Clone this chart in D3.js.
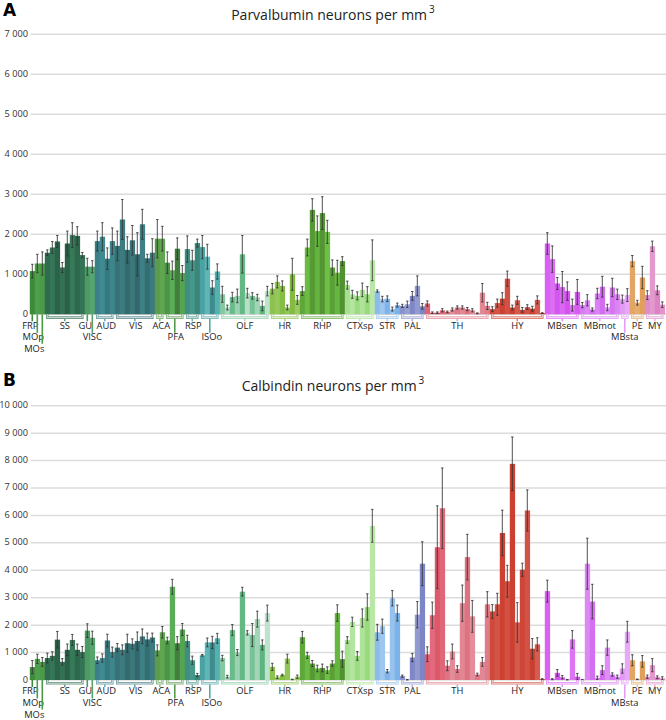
<!DOCTYPE html>
<html><head><meta charset="utf-8">
<script src="https://cdn.jsdelivr.net/npm/d3@7"></script>
<style>body{margin:0;background:#fff} svg{display:block}</style>
</head><body><svg id="chart" width="666" height="720"></svg>
<script>
const groups = ["FRP","MOp","MOs","SS","GU","VISC","AUD","VIS","ACA","PFA","RSP","ISOo","OLF","HR","RHP","CTXsp","STR","PAL","TH","HY","MBsen","MBmot","MBsta","PE","MY"];
const groupSizes = [1,1,1,8,1,1,4,8,2,4,3,4,10,6,9,6,5,5,13,11,7,8,2,3,4];
const labelRow = [0,1,2,0,0,1,0,0,0,1,0,1,0,0,0,0,0,0,0,0,0,0,1,0,0];
const groupColors = ["#3d8a3a","#4f9e4b","#4a9a48","#2f6b4f","#4e9a64","#56a46e","#3b8088","#377276","#5a9c4c","#4c9448","#3f8e80","#4aa2a2","#86c8a0","#8cc24e","#5ea83a","#a6e08e","#8cbcec","#8a92cc","#e07e8c","#d04a3c","#d860f2","#d87af2","#e29af6","#e3a564","#e08cc8"];

const pvTicks = [0,1000,2000,3000,4000,5000,6000,7000];
const cbTicks = [0,1000,2000,3000,4000,5000,6000,7000,8000,9000,10000];

const pvValues = [
1080,1270,1270,
1540,1670,1820,1170,1770,1980,1960,1480,
1190,1190,
1830,1940,1390,1830,
1710,2370,1610,1850,1500,2250,1400,1540,
1890,1890,
1290,1100,1640,1030,
1630,1350,1780,
1680,1440,670,1070,
500,170,430,460,1500,530,460,420,210,580,
640,810,710,170,1000,360,
580,1670,2610,2080,2530,2060,1170,1040,1330,
730,500,460,610,500,1350,
580,380,390,130,230,
210,250,460,710,200,
270,40,40,100,60,120,170,170,130,100,25,540,210,
130,280,390,890,170,350,110,180,140,360,30,
1770,1380,770,680,580,230,560,
230,350,120,520,690,170,670,500,
380,480,
1330,290,920,
480,1700,600,240];
const pvErrors = [
170,230,290,
70,150,150,125,310,310,230,65,
210,150,
250,350,270,330,
370,500,330,370,540,375,100,350,
480,310,
270,230,270,190,
330,250,100,
290,310,170,190,
200,60,120,170,470,120,80,80,120,120,
130,150,125,60,400,110,
110,210,280,380,410,290,190,310,110,
100,100,100,170,190,510,
30,70,70,50,50,
40,80,110,250,70,
65,20,20,40,20,40,40,40,40,40,10,230,90,
60,100,150,190,60,100,60,60,60,100,10,
270,330,150,390,230,150,310,
65,140,40,130,260,80,230,130,
100,160,
140,60,280,
110,130,110,70];
const cbValues = [
470,770,660,
800,880,1470,660,1100,1460,1100,1020,
1800,1540,
720,800,1440,1020,
1180,1100,1340,1320,1420,1590,1480,1550,
1080,1740,
1440,3400,1340,1840,
1420,720,180,
900,1370,1370,1520,
800,120,1820,1000,3220,1720,1640,2220,1280,2440,
480,100,180,780,20,120,
1560,900,600,420,440,360,600,2440,760,
1460,2120,880,2260,2660,5620,
1740,1960,320,2980,2440,
140,10,820,2380,4240,
940,2360,4840,6260,520,1040,400,2800,4480,2320,200,660,2760,
2500,2760,5360,3600,7880,2100,4020,6180,1140,1300,30,
3240,30,260,100,10,1480,120,
10,4240,2860,80,360,1180,200,120,
420,1760,
720,25,680,
120,540,100,60];
const cbErrors = [
240,170,160,
180,150,300,120,210,200,210,200,
250,240,
120,150,230,180,
150,180,330,180,330,270,230,160,
200,210,
120,270,240,220,
210,150,60,
30,160,220,180,
100,50,200,110,160,80,420,290,180,290,
130,50,30,160,10,60,
210,110,110,120,140,120,100,300,290,
120,170,160,330,480,600,
290,260,60,280,290,
40,10,150,480,800,
270,480,1510,1470,180,270,120,660,830,580,50,160,460,
250,400,830,580,980,720,240,750,370,240,20,
400,20,120,60,10,320,120,
10,930,630,60,160,280,60,60,
170,380,
200,10,210,
60,240,50,60];

const font = "'Open Sans', sans-serif";
const svg = d3.select("#chart");
const N = pvValues.length;
const barGroup = [], groupStart = [];
let acc = 0;
groupSizes.forEach((n, g) => { groupStart.push(acc); for (let j = 0; j < n; j++) barGroup.push(g); acc += n; });

const x = d3.scaleBand().domain(d3.range(N)).range([29.8, 664.8]).padding(0);
const loc = d3.formatLocale({decimal: ".", thousands: " ", grouping: [3], currency: ["", ""]});
const fmt = loc.format(",");

const shadeAmp = {OLF: 2.0, PFA: 1.6, ISOo: 1.6, HR: 0.8, RHP: 1.0, CTXsp: 0.9, STR: 0.8, PAL: 0.8, TH: 0.5, HY: 0.6};
const pat = [0, 0.05, -0.04, 0.03, -0.05, 0.07, -0.02, 0.04, -0.06, 0.08, -0.03, 0.05, -0.01];
function barColor(i) {
  const g = barGroup[i], j = i - groupStart[g];
  const c = d3.hsl(groupColors[g]);
  c.l += pat[j % pat.length] * (shadeAmp[groups[g]] || 0.6);
  if (groups[g] === "TH" && j < 4) { c.l -= 0.06; c.s += 0.05; }
  return c.formatHex();
}
function light(col, t) { return d3.interpolateRgb(col, "#ffffff")(t); }

function drawPanel(values, errors, y, ticks, title, letter, letterY, titleY) {
  const base = y(0);
  const g = svg.append("g");
  g.selectAll("line.grid").data(ticks).join("line")
    .attr("x1", 30.7).attr("x2", 666).attr("y1", d => y(d)).attr("y2", d => y(d))
    .attr("stroke", "#dcdcdc").attr("stroke-width", 1.5);
  g.selectAll("text.tick").data(ticks).join("text")
    .attr("x", 28).attr("y", d => y(d) + 2.5).attr("text-anchor", "end")
    .attr("font-family", font).attr("font-size", 9.2).attr("fill", "#333").text(d => fmt(d));
  g.selectAll("rect.bar").data(values).join("rect")
    .attr("x", (d, i) => x(i)).attr("width", x.bandwidth() + 0.3)
    .attr("y", d => y(d)).attr("height", d => base - y(d))
    .attr("fill", (d, i) => barColor(i));
  const eg = g.append("g").attr("stroke", "#333").attr("stroke-opacity", 0.85).attr("stroke-width", 1);
  values.forEach((v, i) => {
    const cx = x(i) + x.bandwidth() / 2;
    const lo = Math.max(0, v - errors[i]), hi = v + errors[i];
    eg.append("line").attr("x1", cx).attr("x2", cx).attr("y1", y(lo)).attr("y2", y(hi));
    eg.append("line").attr("x1", cx - 1.2).attr("x2", cx + 1.2).attr("y1", y(lo)).attr("y2", y(lo));
    eg.append("line").attr("x1", cx - 1.2).attr("x2", cx + 1.2).attr("y1", y(hi)).attr("y2", y(hi));
  });
  const rowTop = [base + 7, base + 18.5, base + 29.5];
  const rowBase = [base + 14.4, base + 26.0, base + 37.6];
  const labelDx = {FRP: -2, MOp: -4, MOs: -8, GU: -2, AUD: 1.5, VIS: 1, ACA: 1.5, PFA: 1, RSP: 1, ISOo: 2};
  groups.forEach((name, k) => {
    const n = groupSizes[k], s = groupStart[k];
    const x0 = x(s) + x.bandwidth() / 2, x1 = x(s + n - 1) + x.bandwidth() / 2;
    const cx = (x0 + x1) / 2;
    const col = groupColors[k];
    const r = labelRow[k];
    if (n === 1) {
      g.append("line").attr("x1", x0).attr("x2", x0).attr("y1", base).attr("y2", rowTop[r])
        .attr("stroke", col).attr("stroke-width", 1.6);
    } else {
      const d = `M${x0},${base}V${base + 3.3}H${x1}V${base}`;
      g.append("path").attr("d", d).attr("fill", "none").attr("stroke", light(col, 0.3)).attr("stroke-width", 2.6);
      g.append("path").attr("d", d).attr("fill", "none").attr("stroke", light(col, 0.8)).attr("stroke-width", 0.9);
      g.append("line").attr("x1", cx).attr("x2", cx).attr("y1", base + 4.5).attr("y2", rowTop[r])
        .attr("stroke", r > 0 ? col : light(col, 0.3)).attr("stroke-width", 1.5);
    }
    g.append("text").attr("x", cx + (labelDx[name] || 0)).attr("y", rowBase[r])
      .attr("text-anchor", "middle").attr("font-family", font).attr("font-size", 9.4)
      .attr("fill", "#222").text(name);
  });
  const t = g.append("text").attr("x", 333).attr("y", titleY).attr("text-anchor", "middle")
    .attr("font-family", font).attr("font-size", 14).attr("fill", "#222");
  t.append("tspan").text(title);
  t.append("tspan").attr("dy", -7).attr("dx", 2).attr("font-size", 10).text("3");
  g.append("text").attr("x", 3).attr("y", letterY).attr("font-family", "'DejaVu Sans', sans-serif")
    .attr("font-weight", "bold").attr("font-size", 17).attr("fill", "#000").text(letter);
}

const yA = d3.scaleLinear().domain([0, 7000]).range([314.3, 34.3]);
const yB = d3.scaleLinear().domain([0, 10000]).range([680, 405.7]);
drawPanel(pvValues, pvErrors, yA, pvTicks, "Parvalbumin neurons per mm", "A", 16, 20);
drawPanel(cbValues, cbErrors, yB, cbTicks, "Calbindin neurons per mm", "B", 386, 391);
</script></body></html>
